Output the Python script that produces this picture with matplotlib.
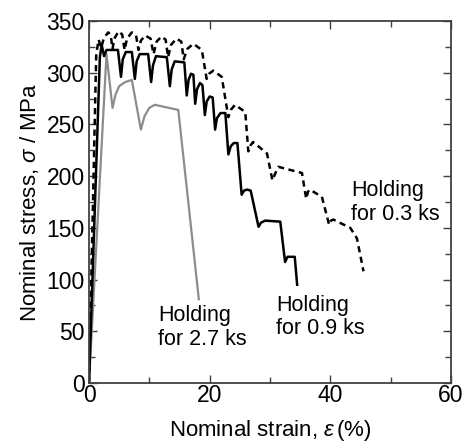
import matplotlib
matplotlib.use("Agg")
import matplotlib.pyplot as plt
from matplotlib.ticker import MultipleLocator

plt.rcParams['font.family'] = ['Liberation Sans', 'DejaVu Sans']
plt.rcParams['mathtext.fontset'] = 'custom'
plt.rcParams['mathtext.rm'] = 'Liberation Sans'
plt.rcParams['mathtext.it'] = 'Liberation Sans:italic'

# Holding for 0.3 ks (dashed)
strain_03 = [0, 1.2, 1.6, 2.0, 2.5, 3.2, 3.6, 3.9, 4.2, 4.9, 5.5, 5.9, 6.3, 7.1, 7.8, 8.2,
             8.6, 9.3, 10.2, 10.7, 11.2, 12.0, 12.7, 13.1, 13.6, 14.5, 15.3, 15.7, 16.3,
             17.3, 18.7, 19.5, 19.9, 20.6, 22.0, 23.1, 23.5, 24.2, 25.9, 26.4, 26.8, 27.2,
             29.5, 30.4, 30.9, 31.4, 35.3, 36.0, 36.3, 36.6, 38.6, 39.8, 40.1, 40.5, 43.3,
             44.4, 45.5]
stress_03 = [0, 318, 332, 324, 334, 339, 336, 323, 333, 340, 337, 322, 333, 339, 336, 322,
             331, 336, 333, 318, 330, 335, 332, 315, 327, 333, 330, 313, 323,
             328, 322, 294, 299, 302, 296, 257, 264, 269, 262, 224, 230, 233,
             222, 196, 203, 209, 203, 178, 185, 187, 180, 153, 157, 158, 150,
             140, 108]

# Holding for 0.9 ks (solid black)
strain_09 = [0, 1.8, 2.1, 2.5, 2.9, 4.8, 5.3, 5.6, 6.1, 7.1, 7.6, 7.9, 8.4, 9.8, 10.3, 10.6,
             11.1, 12.9, 13.4, 13.7, 14.2, 15.8, 16.2, 16.5, 16.9, 17.3, 17.6, 17.9, 18.4,
             18.8, 19.2, 19.5, 20.0, 20.5, 20.9, 21.2, 21.8, 22.6, 23.1, 23.5, 24.0, 24.6,
             25.3, 25.7, 26.2, 26.8, 28.1, 28.5, 29.2, 31.7, 32.5, 32.9, 34.1, 34.5]
stress_09 = [0, 315, 327, 316, 322, 322, 296, 313, 320, 320, 294, 311, 318, 318, 291, 307,
             316, 315, 287, 303, 311, 310, 278, 293, 299, 298, 270, 284, 290,
             288, 259, 272, 277, 276, 245, 256, 261, 261, 221, 229, 232, 232,
             182, 186, 187, 186, 151, 155, 157, 156, 117, 122, 122, 95]

# Holding for 2.7 ks (gray)
strain_27 = [0, 2.9, 3.9, 4.4, 5.0, 6.0, 7.1, 8.6, 9.2, 10.0, 10.9, 14.8, 18.2]
stress_27 = [0, 318, 266, 279, 287, 291, 293, 245, 258, 266, 269, 264, 81]

fig = plt.figure(figsize=(4.65, 4.46), dpi=100)
ax = fig.add_axes([0.1914, 0.1413, 0.7785, 0.8116])

ax.plot(strain_27, stress_27, '-', color='#8c8c8c', lw=1.6)
ax.plot(strain_09, stress_09, '-', color='black', lw=1.8)
ax.plot(strain_03, stress_03, '--', color='black', lw=1.8, dashes=(2.5, 1.8))

ax.text(43.5, 196, "Holding\nfor 0.3 ks", fontsize=15.5, va='top', ha='left', linespacing=1.15)
ax.text(31.0, 85, "Holding\nfor 0.9 ks", fontsize=15.5, va='top', ha='left', linespacing=1.15)
ax.text(11.5, 75, "Holding\nfor 2.7 ks", fontsize=15.5, va='top', ha='left', linespacing=1.15)

ax.set_xlim(0, 60)
ax.set_ylim(0, 350)
ax.xaxis.set_major_locator(MultipleLocator(20))
ax.xaxis.set_minor_locator(MultipleLocator(10))
ax.yaxis.set_major_locator(MultipleLocator(50))
ax.yaxis.set_minor_locator(MultipleLocator(25))
ax.tick_params(which='both', direction='in', top=True, right=True,
               color='#404040', labelsize=16.5, width=1.0)
ax.tick_params(axis='x', pad=1)
ax.tick_params(axis='y', pad=3)
ax.tick_params(which='major', length=6)
ax.tick_params(which='minor', length=4)
for s in ax.spines.values():
    s.set_color('#404040')
    s.set_linewidth(1.3)

ax.set_xlabel(r"Nominal strain, $\varepsilon\,$(%)", fontsize=16, labelpad=8)
ax.set_ylabel(r"Nominal stress, $\sigma$ / MPa", fontsize=16, labelpad=4)

fig.savefig("out.png", dpi=100)
